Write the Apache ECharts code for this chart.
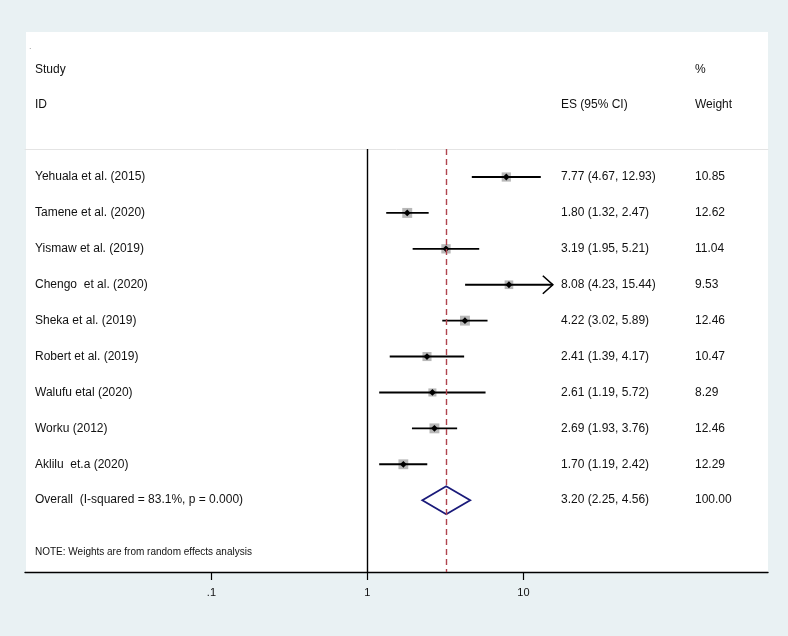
<!DOCTYPE html>
<html>
<head>
<meta charset="utf-8">
<script src="https://cdn.jsdelivr.net/npm/echarts@6/dist/echarts.min.js"></script>
<style>
  html, body { margin: 0; padding: 0; background: #e9f1f3; }
  #chart { width: 788px; height: 636px; }
</style>
</head>
<body>
<div id="chart"></div>
<script>
// study rows, top to bottom
const studies = [
  'Yehuala et al. (2015)',
  'Tamene et al. (2020)',
  'Yismaw et al. (2019)',
  'Chengo  et al. (2020)',
  'Sheka et al. (2019)',
  'Robert et al. (2019)',
  'Walufu etal (2020)',
  'Worku (2012)',
  'Aklilu  et.a (2020)'
]
const es = [7.77, 1.80, 3.19, 8.08, 4.22, 2.41, 2.61, 2.69, 1.70]
const ciLow = [4.67, 1.32, 1.95, 4.23, 3.02, 1.39, 1.19, 1.93, 1.19]
const ciHigh = [12.93, 2.47, 5.21, 15.44, 5.89, 4.17, 5.72, 3.76, 2.42]
const weights = [10.85, 12.62, 11.04, 9.53, 12.46, 10.47, 8.29, 12.46, 12.29]

const overallLabel = 'Overall  (I-squared = 83.1%, p = 0.000)'
const overallEs = 3.20
const overallLow = 2.25
const overallHigh = 4.56
const overallWeight = 100.00

const xTicks = [0.1, 1, 10]
const xClip = 15   // CI beyond this gets an arrow head

const FONT = '"Liberation Sans", Arial, sans-serif'
const TXT = '#111'

const rowIdx = studies.map((_, i) => i)
const overallRow = studies.length

const fmt = v => v.toFixed(2)
const esText = studies.map((_, i) => `${fmt(es[i])} (${fmt(ciLow[i])}, ${fmt(ciHigh[i])})`)
esText.push(`${fmt(overallEs)} (${fmt(overallLow)}, ${fmt(overallHigh)})`)
const wText = weights.map(fmt)
wText.push(fmt(overallWeight))
const nameText = studies.concat([overallLabel])
const labelRows = rowIdx.concat([overallRow])

const chart = echarts.init(document.getElementById('chart'))

const yBase = {
  type: 'value',
  min: -0.78,
  max: 11.0,
  inverse: true,
  axisLine: { show: false },
  axisTick: { show: false },
  splitLine: { show: false }
}

function rowLabels(texts) {
  return (v) => {
    const i = labelRows.indexOf(Math.round(v))
    return i >= 0 ? texts[i] : ''
  }
}

const option = {
  backgroundColor: '#e9f1f3',
  animation: false,
  grid: { left: 25, right: 20, top: 149, bottom: 64 },
  graphic: [
    { type: 'rect', z: -10, silent: true, shape: { x: 26, y: 32, width: 742, height: 540 }, style: { fill: '#fff' } },
    { type: 'text', x: 29, y: 42, style: { text: '.', font: `9px ${FONT}`, fill: '#999' } },
    { type: 'text', x: 35, y: 70, style: { text: 'Study', font: `12px ${FONT}`, fill: TXT, verticalAlign: 'middle' } },
    { type: 'text', x: 35, y: 105, style: { text: 'ID', font: `12px ${FONT}`, fill: TXT, verticalAlign: 'middle' } },
    { type: 'text', x: 561, y: 105, style: { text: 'ES (95% CI)', font: `12px ${FONT}`, fill: TXT, verticalAlign: 'middle' } },
    { type: 'text', x: 695, y: 70, style: { text: '%', font: `12px ${FONT}`, fill: TXT, verticalAlign: 'middle' } },
    { type: 'text', x: 695, y: 105, style: { text: 'Weight', font: `12px ${FONT}`, fill: TXT, verticalAlign: 'middle' } },
    { type: 'text', x: 35, y: 552, style: { text: 'NOTE: Weights are from random effects analysis', font: `10px ${FONT}`, fill: TXT, verticalAlign: 'middle' } }
  ],
  xAxis: [
    {
      type: 'log',
      logBase: 10,
      min: 0.00638,
      max: 370,
      axisLine: { onZero: false, lineStyle: { color: '#000', width: 1.4 } },
      axisTick: { customValues: xTicks, length: 8, lineStyle: { color: '#000', width: 1.2 } },
      axisLabel: {
        customValues: xTicks,
        margin: 15,
        fontFamily: FONT,
        fontSize: 11,
        color: TXT,
        formatter: v => (Math.abs(v - 0.1) < 1e-9 ? '.1' : String(Math.round(v)))
      },
      splitLine: { show: false }
    },
    {
      type: 'log',
      logBase: 10,
      position: 'top',
      min: 0.00638,
      max: 370,
      axisLine: { onZero: false, lineStyle: { color: '#e4e4e4', width: 1 } },
      axisTick: { show: false },
      axisLabel: { show: false },
      splitLine: { show: false }
    }
  ],
  yAxis: [
    Object.assign({}, yBase, {
      position: 'left',
      axisLabel: { inside: true, margin: 10, customValues: labelRows, fontFamily: FONT, fontSize: 12, color: TXT, align: 'left', formatter: rowLabels(nameText) }
    }),
    Object.assign({}, yBase, {
      position: 'right',
      offset: -207,
      axisLabel: { margin: 0, customValues: labelRows, fontFamily: FONT, fontSize: 12, color: TXT, align: 'left', formatter: rowLabels(esText) }
    }),
    Object.assign({}, yBase, {
      position: 'right',
      offset: -73,
      axisLabel: { margin: 0, customValues: labelRows, fontFamily: FONT, fontSize: 12, color: TXT, align: 'left', formatter: rowLabels(wText) }
    })
  ],
  series: [
    {
      name: 'studies',
      type: 'custom',
      xAxisIndex: 0,
      yAxisIndex: 0,
      clip: false,
      data: studies.map((_, i) => [es[i], i, ciLow[i], ciHigh[i], weights[i]]),
      renderItem: (params, api) => {
        const row = api.value(1)
        const p = api.coord([api.value(0), row])
        const l = api.coord([api.value(2), row])
        const h = api.coord([api.value(3), row])
        const side = 2.8 * Math.sqrt(api.value(4))
        const d = 3.4
        const children = [
          { type: 'rect', shape: { x: p[0] - side / 2, y: p[1] - side / 2, width: side, height: side }, style: { fill: '#b8b8b8' } },
          { type: 'line', shape: { x1: l[0], y1: l[1], x2: h[0], y2: h[1] }, style: { stroke: '#000', lineWidth: 1.9 } },
          { type: 'polygon', shape: { points: [[p[0] - d, p[1]], [p[0], p[1] - d], [p[0] + d, p[1]], [p[0], p[1] + d]] }, style: { fill: '#000' } }
        ]
        if (api.value(3) > xClip) {
          children.push({
            type: 'polyline',
            shape: { points: [[h[0] - 10, h[1] - 9], [h[0], h[1]], [h[0] - 10, h[1] + 9]] },
            style: { stroke: '#000', lineWidth: 1.6, fill: null }
          })
        }
        return { type: 'group', children }
      }
    },
    {
      name: 'overall',
      type: 'custom',
      xAxisIndex: 0,
      yAxisIndex: 0,
      clip: false,
      data: [[overallEs, overallRow, overallLow, overallHigh]],
      renderItem: (params, api) => {
        const row = api.value(1)
        const p = api.coord([api.value(0), row])
        const l = api.coord([api.value(2), row])
        const h = api.coord([api.value(3), row])
        const hh = 14
        return {
          type: 'polygon',
          shape: { points: [[l[0], l[1]], [p[0], p[1] - hh], [h[0], h[1]], [p[0], p[1] + hh]] },
          style: { fill: 'none', stroke: '#1a1a7a', lineWidth: 1.8 }
        }
      },
      markLine: {
        silent: true,
        symbol: 'none',
        label: { show: false },
        data: [
          { xAxis: 1, lineStyle: { color: '#000', width: 1.4, type: 'solid' } },
          { xAxis: overallEs, lineStyle: { color: '#b0444e', width: 1.4, type: [6, 4] } }
        ]
      }
    }
  ]
}

chart.setOption(option)
</script>
</body>
</html>
